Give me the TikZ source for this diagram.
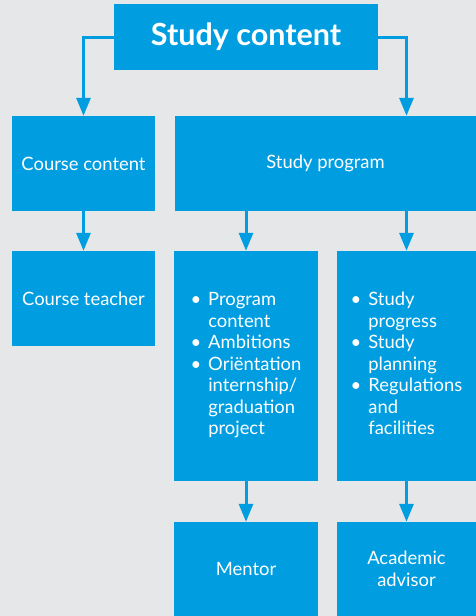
\documentclass[tikz,border=0pt]{standalone}
\usepackage{fontspec}
\setmainfont{Lato}
\usetikzlibrary{arrows.meta}
\definecolor{bg}{RGB}{230,231,233}
\definecolor{blu}{RGB}{0,158,224}
\begin{document}
\begin{tikzpicture}[x=1pt,y=-1pt,
 box/.style={fill=blu, draw=none, inner sep=0pt, text=white, align=center,
   font=\fontsize{18.4}{21.5}\selectfont},
 conn/.style={draw=blu, line width=3pt, -{Triangle[width=14pt,length=18pt]}}]
\fill[bg] (0,0) rectangle (476,616);
\useasboundingbox (0,0) rectangle (476,616);
\node[box, minimum width=264pt, minimum height=66pt, font=\fontsize{30.5}{34}\selectfont\bfseries] (top) at (246,37) {Study content};
\node[box, minimum width=143pt, minimum height=95pt] (cc) at (83.5,163.5) {Course content};
\node[box, minimum width=143pt, minimum height=95pt] (ct) at (83.5,298.5) {Course teacher};
\node[box, minimum width=301pt, minimum height=95pt] (sp) at (325.5,163.5) {Study program};
\node[box, minimum width=144pt, minimum height=230pt] (pc) at (246,366) {%
 \begin{tabular}{@{}l@{\hspace{7pt}}l@{}}
 \textbullet & Program\\ & content\\ \textbullet & Ambitions\\ \textbullet & Oriëntation\\ & internship/\\ & graduation\\ & project
 \end{tabular}};
\node[box, minimum width=139pt, minimum height=230pt] (spr) at (406.5,366) {%
 \begin{tabular}{@{}l@{\hspace{7pt}}l@{}}
 \textbullet & Study\\ & progress\\ \textbullet & Study\\ & planning\\ \textbullet & Regulations\\ & and\\ & facilities
 \end{tabular}};
\node[box, minimum width=144pt, minimum height=94pt] (mentor) at (246,569) {Mentor};
\node[box, minimum width=139pt, minimum height=94pt] (aa) at (406.5,569) {Academic\\advisor};
\draw[conn] (top.west) -| (cc.north);
\draw[conn] (top.east) -| (spr.north |- sp.north);
\draw[conn] (cc.south) -- (ct.north);
\draw[conn] (pc.north |- sp.south) -- (pc.north);
\draw[conn] (spr.north |- sp.south) -- (spr.north);
\draw[conn] (pc.south) -- (mentor.north);
\draw[conn] (spr.south) -- (aa.north);
\end{tikzpicture}
\end{document}
